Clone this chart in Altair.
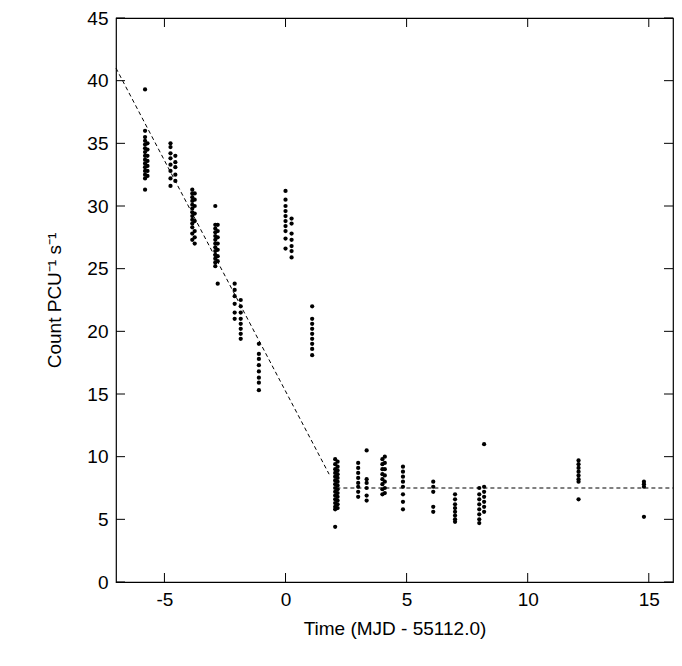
import altair as alt
import pandas as pd

# Clusters of observations: (time offset, list of count rates)
cluster_x = [-5.8, -5.7, -4.75, -4.55, -3.85, -3.75, -2.9, -2.8, -2.1, -1.85,
             -1.1, 0.0, 0.25, 1.1, 2.05, 2.15, 3.0, 3.35, 4.0, 4.1, 4.85,
             6.1, 7.0, 8.0, 8.2, 12.1, 14.8]
cluster_y = [
    [39.3, 36.0, 35.5, 35.2, 34.9, 34.6, 34.3, 34.0, 33.7, 33.4, 33.1, 32.8, 32.5, 32.2, 31.3],
    [35.0, 34.5, 34.0, 33.6, 33.2, 32.8, 32.4],
    [35.0, 34.7, 34.2, 33.8, 33.3, 32.8, 32.2, 31.6],
    [34.0, 33.5, 33.1, 32.5, 32.0],
    [31.3, 31.0, 30.7, 30.4, 30.1, 29.8, 29.5, 29.2, 28.9, 28.6, 28.3, 27.8, 27.3],
    [31.0, 30.5, 30.0, 29.4, 28.8, 28.0, 27.5, 27.0],
    [30.0, 28.5, 28.2, 27.9, 27.6, 27.3, 27.0, 26.7, 26.4, 26.1, 25.8, 25.5, 25.2],
    [28.5, 28.0, 27.5, 27.0, 26.5, 26.0, 25.6, 23.8],
    [23.8, 23.3, 22.8, 22.2, 21.5, 21.0],
    [22.5, 22.0, 21.5, 21.0, 20.6, 20.2, 19.8, 19.4],
    [19.0, 18.2, 17.8, 17.3, 16.8, 16.3, 15.9, 15.3],
    [31.2, 30.5, 30.0, 29.6, 29.2, 28.8, 28.4, 28.0, 27.4, 26.6],
    [29.0, 28.6, 27.8, 27.3, 26.8, 26.4, 25.9],
    [22.0, 21.0, 20.6, 20.2, 19.8, 19.4, 19.0, 18.6, 18.1],
    [9.8, 9.4, 9.0, 8.7, 8.4, 8.1, 7.8, 7.5, 7.2, 6.9, 6.6, 6.3, 6.0, 5.8, 4.4],
    [9.6, 9.2, 8.9, 8.6, 8.3, 8.0, 7.7, 7.4, 7.1, 6.8, 6.5, 6.2, 5.9],
    [9.5, 9.1, 8.7, 8.3, 7.9, 7.6, 7.2, 6.8],
    [10.5, 8.2, 7.9, 7.5, 6.9, 6.5],
    [9.8, 9.4, 9.0, 8.6, 8.2, 7.8, 7.4, 7.0],
    [10.0, 9.5, 9.0, 8.5, 8.0, 7.5, 7.1],
    [9.2, 8.8, 8.4, 8.0, 7.6, 7.0, 6.4, 5.8],
    [8.0, 7.6, 7.2, 6.0, 5.6],
    [7.0, 6.6, 6.2, 5.9, 5.6, 5.3, 5.0, 4.8],
    [7.5, 7.0, 6.6, 6.2, 5.8, 5.4, 5.0, 4.7],
    [11.0, 7.6, 7.2, 6.8, 6.4, 6.0, 5.6],
    [9.7, 9.4, 9.1, 8.8, 8.5, 8.2, 8.0, 6.6],
    [8.0, 7.8, 7.6, 5.2],
]

# Broken-line model: linear decay then constant
model_x = [-7.0, 1.8]
model_y = [41.0, 8.6]
flat_x = [2.1, 16.0]
flat_y = [7.5, 7.5]

x_ticks = [-5, 0, 5, 10, 15]
y_ticks = list(range(0, 50, 5))

W, H = 557, 564

rows = [{"t": x, "c": y} for x, ys in zip(cluster_x, cluster_y) for y in ys]
df = pd.DataFrame(rows)
seg = pd.DataFrame({"t": model_x + flat_x, "c": model_y + flat_y,
                    "s": ["a", "a", "b", "b"]})

xs = alt.Scale(domain=[-7, 16], nice=False, zero=False)
ys_ = alt.Scale(domain=[0, 45], nice=False)
ax = dict(ticks=False, labelFontSize=19, titleFontSize=19, labelPadding=8,
          labelColor="black", titleColor="black",
          domain=False, grid=False, labelFont="Liberation Sans",
          titleFont="Liberation Sans", titleFontWeight="normal",
          labelExpr="replace(datum.label, '−', '-')")
xax = alt.Axis(values=x_ticks, title="Time (MJD - 55112.0)", titlePadding=10, **ax)
yax = alt.Axis(values=y_ticks, title="Count PCU⁻¹ s⁻¹", titlePadding=22, **ax)

pts = alt.Chart(df).mark_circle(size=18, color="black", opacity=1).encode(
    x=alt.X("t:Q", scale=xs, axis=xax),
    y=alt.Y("c:Q", scale=ys_, axis=yax),
)
lines = alt.Chart(seg).mark_line(color="black", strokeDash=[4, 3], strokeWidth=1).encode(
    x=alt.X("t:Q", scale=xs), y=alt.Y("c:Q", scale=ys_), detail="s:N"
)

# inward ticks on all four sides
xt = pd.DataFrame({"t": x_ticks})
yt = pd.DataFrame({"c": y_ticks})
tick = dict(color="black", strokeWidth=1)
xb = alt.Chart(xt).mark_rule(**tick).encode(x=alt.X("t:Q", scale=xs), y=alt.value(H), y2=alt.value(H - 9))
xtp = alt.Chart(xt).mark_rule(**tick).encode(x=alt.X("t:Q", scale=xs), y=alt.value(0), y2=alt.value(9))
yl = alt.Chart(yt).mark_rule(**tick).encode(y=alt.Y("c:Q", scale=ys_), x=alt.value(0), x2=alt.value(9))
yr = alt.Chart(yt).mark_rule(**tick).encode(y=alt.Y("c:Q", scale=ys_), x=alt.value(W), x2=alt.value(W - 9))

chart = alt.layer(pts, lines, xb, xtp, yl, yr).properties(
    width=W, height=H,
    autosize=alt.AutoSizeParams(type="none"),
    padding={"left": 108, "top": 10, "right": 1, "bottom": 66},
).configure_view(stroke="black", strokeWidth=1.2)

chart.save("out.html", embed_options={"renderer": "svg", "actions": False})
